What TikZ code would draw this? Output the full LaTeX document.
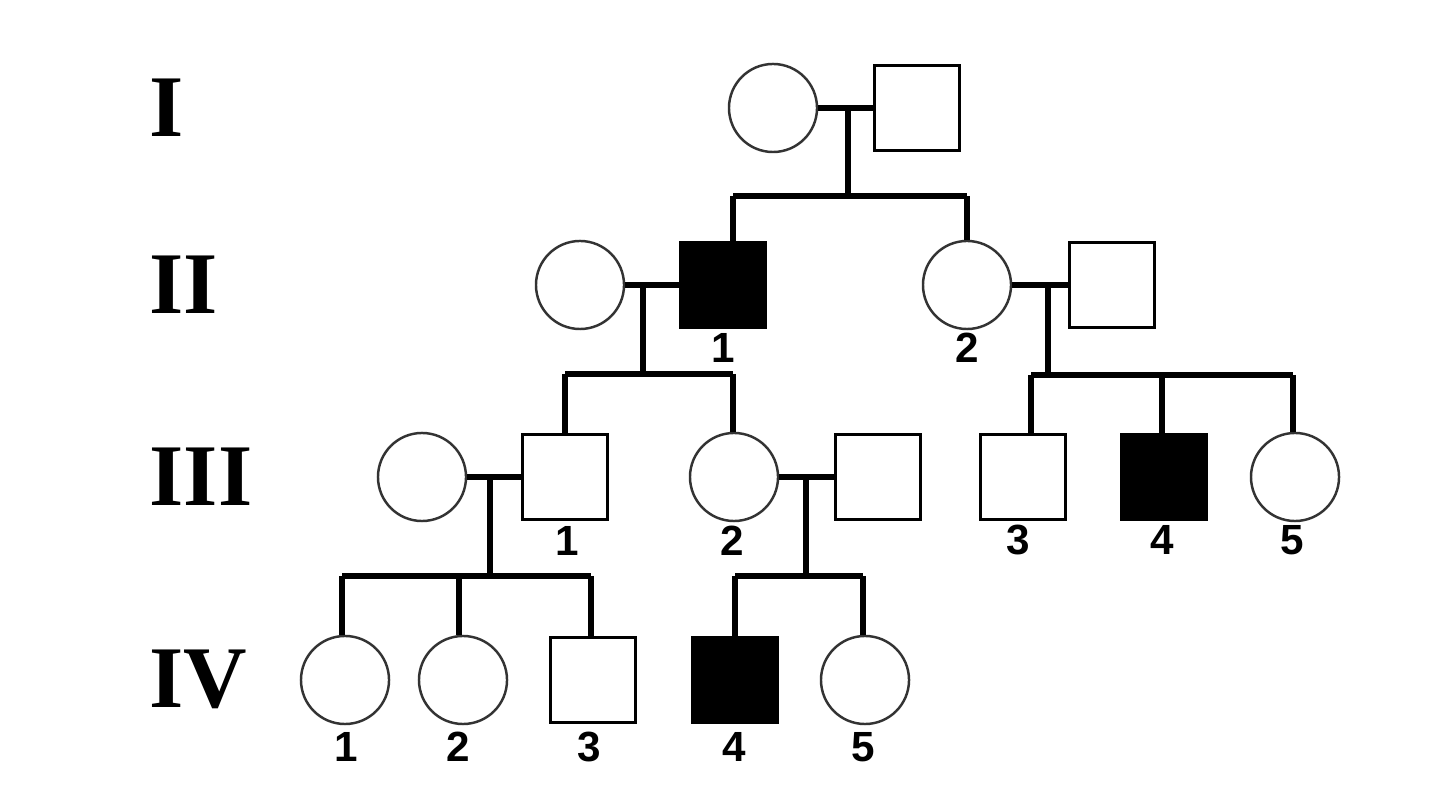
\documentclass[tikz,border=0pt]{standalone}
\usepackage{fontspec}
\setmainfont{Liberation Serif}
\newfontfamily\numfont{Liberation Sans}
\begin{document}
\begin{tikzpicture}[x=0.01cm, y=-0.01cm,
        male/.style={draw, line width=0.9pt, minimum size=0.85cm, inner sep=0pt},
        ill/.style={male, fill=black},
        female/.style={draw=black!80, circle, line width=0.7pt, minimum size=0.88cm, inner sep=0pt},
        line/.style={line width=1.5pt},
        num/.style={font=\numfont\bfseries\fontsize{12}{14}\selectfont},
        gen/.style={font=\bfseries\fontsize{25}{28}\selectfont, anchor=west, inner sep=0pt}]
        \useasboundingbox (0, 0) rectangle (1440, 789);

        % generation labels
        \node[gen] (g1) at (149, 108) {I};
        \node[gen] (g2) at (149, 285) {II};
        \node[gen] (g3) at (149, 477) {III};
        \node[gen] (g4) at (149, 679) {IV};

        % I
        \node[female] (i1) at (773, 108) {};
        \node[male] (i2) at (917, 108) {};

        % II
        \node[female] (ii0) at (580, 285) {};
        \node[ill] (ii1) at (723, 285) {};
        \node[female] (ii2) at (967, 285) {};
        \node[male] (ii3) at (1112, 285) {};
        \node[num] (n21) at (723, 348) {1};
        \node[num] (n22) at (967, 348) {2};

        % III
        \node[female] (iii0) at (422, 477) {};
        \node[male] (iii1) at (565, 477) {};
        \node[female] (iii2) at (734, 477) {};
        \node[male] (iii6) at (878, 477) {};
        \node[male] (iii3) at (1023, 477) {};
        \node[ill] (iii4) at (1164, 477) {};
        \node[female] (iii5) at (1295, 477) {};
        \node[num] (n31) at (567, 541) {1};
        \node[num] (n32) at (732, 541) {2};
        \node[num] (n33) at (1018, 540) {3};
        \node[num] (n34) at (1162, 540) {4};
        \node[num] (n35) at (1292, 540) {5};

        % IV
        \node[female] (iv1) at (345, 680) {};
        \node[female] (iv2) at (463, 680) {};
        \node[male] (iv3) at (593, 680) {};
        \node[ill] (iv4) at (735, 680) {};
        \node[female] (iv5) at (865, 680) {};
        \node[num] (n41) at (346, 747) {1};
        \node[num] (n42) at (458, 747) {2};
        \node[num] (n43) at (589, 747) {3};
        \node[num] (n44) at (734, 747) {4};
        \node[num] (n45) at (863, 747) {5};

        % family of I
        \coordinate (m1) at (848, 108);
        \coordinate (s1) at (848, 196);
        \coordinate (a1) at (733, 196);
        \coordinate (b1) at (967, 196);
        \draw[line] (i1.east) -- (i2.west);
        \draw[line] (m1) -- (s1);
        \draw[line] (a1) -- (b1);
        \draw[line] (a1) -- (a1 |- ii1.north);
        \draw[line] (b1) -- (ii2.north);

        % family of II-1
        \coordinate (m2) at (643, 285);
        \coordinate (s2) at (643, 374);
        \coordinate (a2) at (565, 374);
        \coordinate (b2) at (733, 374);
        \draw[line] (ii0.east) -- (ii1.west);
        \draw[line] (m2) -- (s2);
        \draw[line] (a2) -- (b2);
        \draw[line] (a2) -- (iii1.north);
        \draw[line] (b2) -- (b2 |- iii2.north);

        % family of II-2
        \coordinate (m3) at (1048, 285);
        \coordinate (s3) at (1048, 375);
        \coordinate (a3) at (1031, 375);
        \coordinate (c3) at (1162, 375);
        \coordinate (b3) at (1293, 375);
        \draw[line] (ii2.east) -- (ii3.west);
        \draw[line] (m3) -- (s3);
        \draw[line] (a3) -- (b3);
        \draw[line] (a3) -- (a3 |- iii3.north);
        \draw[line] (c3) -- (c3 |- iii4.north);
        \draw[line] (b3) -- (b3 |- iii5.north);

        % family of III-1
        \coordinate (m4) at (490, 477);
        \coordinate (s4) at (490, 576);
        \coordinate (a4) at (342, 576);
        \coordinate (c4) at (459, 576);
        \coordinate (b4) at (591, 576);
        \draw[line] (iii0.east) -- (iii1.west);
        \draw[line] (m4) -- (s4);
        \draw[line] (a4) -- (b4);
        \draw[line] (a4) -- (a4 |- iv1.north);
        \draw[line] (c4) -- (c4 |- iv2.north);
        \draw[line] (b4) -- (b4 |- iv3.north);

        % family of III-2
        \coordinate (m5) at (806, 477);
        \coordinate (s5) at (806, 576);
        \coordinate (a5) at (735, 576);
        \coordinate (b5) at (863, 576);
        \draw[line] (iii2.east) -- (iii6.west);
        \draw[line] (m5) -- (s5);
        \draw[line] (a5) -- (b5);
        \draw[line] (a5) -- (iv4.north);
        \draw[line] (b5) -- (b5 |- iv5.north);
\end{tikzpicture}
\end{document}
